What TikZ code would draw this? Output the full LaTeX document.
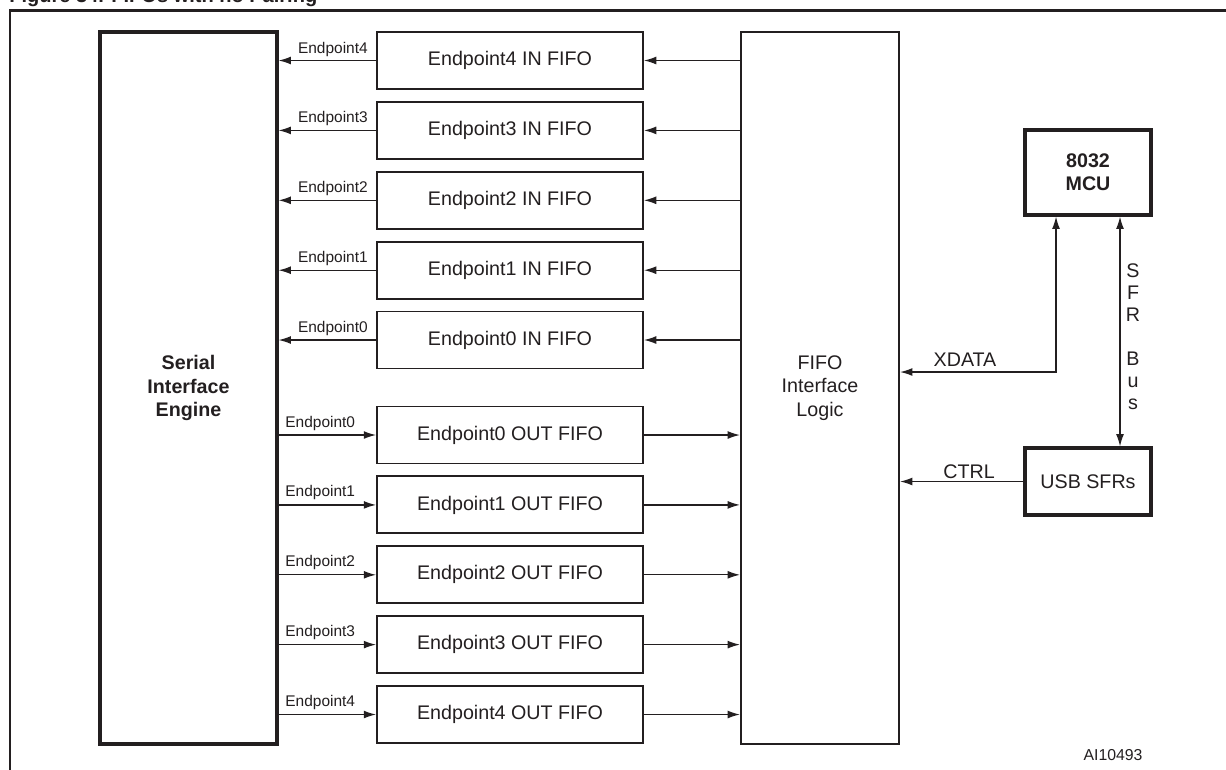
\documentclass[tikz,border=0pt]{standalone}
\usepackage{fontspec}
\setmainfont{Liberation Sans}
\usetikzlibrary{arrows.meta}
\definecolor{ink}{HTML}{231F20}
\begin{document}
\begin{tikzpicture}[x=0.02cm,y=-0.02cm,
  every node/.style={text=ink, inner sep=0pt},
  mainfont/.style={font=\fontsize{11.2}{13.3}\selectfont},
  box/.style={draw=ink, line width=1.1pt, minimum width=5.32cm, minimum height=1.14cm, mainfont},
  thickbox/.style={draw=ink, line width=1.8pt, mainfont},
  arr/.style={draw=ink, line width=0.75pt, -{Latex[length=7pt,width=4.5pt]}},
  arrboth/.style={draw=ink, line width=0.75pt, {Latex[length=7pt,width=4.5pt]}-{Latex[length=7pt,width=4.5pt]}},
  eplab/.style={font=\fontsize{8.8}{10}\selectfont}
]
\useasboundingbox (0,0) rectangle (1226,769);
\clip (0,0) rectangle (1226,769);

% frame and (cut) title
\draw[ink, line width=1.5pt] (10,790) -- (10,10.5) -- (1240,10.5);
\node[anchor=base west, font=\bfseries\fontsize{11.4}{13}\selectfont] (title) at (9,2.5) {Figure 34. FIFOs with no Pairing};

% big blocks
\node[thickbox, minimum width=3.54cm, minimum height=14.24cm, align=center, font=\bfseries\fontsize{11.2}{13.3}\selectfont] (sie) at (188.5,388) {Serial\\Interface\\Engine};
\node[draw=ink, line width=1.2pt, minimum width=3.16cm, minimum height=14.24cm, align=center, mainfont] (fil) at (820,388) {FIFO\\Interface\\Logic};

% IN FIFOs
\foreach \i/\y in {4/60.5,3/130.4,2/200.3,1/270.2,0/340}{
  \node[box] (in\i) at (510,\y) {Endpoint\i\ IN FIFO};
  \draw[arr] (in\i.west) -- (sie.east |- in\i.west);
  \draw[arr] (fil.west |- in\i.east) -- (in\i.east);
  \node[eplab, anchor=base east] (inl\i) at ([xshift=-0.16cm,yshift=0.15cm]in\i.west) {Endpoint\i};
}

% OUT FIFOs
\foreach \i/\y in {0/435,1/504.9,2/574.8,3/644.6,4/714.5}{
  \node[box] (out\i) at (510,\y) {Endpoint\i\ OUT FIFO};
  \draw[arr] (sie.east |- out\i.west) -- (out\i.west);
  \draw[arr] (out\i.east) -- (fil.west |- out\i.east);
  \node[eplab, anchor=base west] (outl\i) at ([xshift=-1.82cm,yshift=0.16cm]out\i.west) {Endpoint\i};
}

% MCU and USB SFRs
\node[thickbox, minimum width=2.52cm, minimum height=1.7cm, align=center, font=\bfseries\fontsize{11.2}{13.3}\selectfont] (mcu) at (1088,172.5) {8032\\MCU};
\node[thickbox, minimum width=2.52cm, minimum height=1.34cm] (usb) at (1088,481.5) {USB SFRs};

\draw[arrboth] ([xshift=-0.64cm]mcu.south) |- (fil.east |- 0,372);
\node[mainfont, anchor=base] (xdata) at (965,366) {XDATA};

\draw[arr] (usb.west) -- (fil.east |- usb.west);
\node[mainfont, anchor=base] (ctrl) at (969,478) {CTRL};

\draw[arrboth] ([xshift=0.64cm]mcu.south) -- ([xshift=0.64cm]usb.north);
\node[align=center, font=\fontsize{11.2}{12.5}\selectfont] (sfr) at (1133,337) {S\\F\\R\\[12.5pt]B\\u\\s};

\node[font=\fontsize{9}{10}\selectfont] (ai) at (1113,755) {AI10493};
\end{tikzpicture}
\end{document}
